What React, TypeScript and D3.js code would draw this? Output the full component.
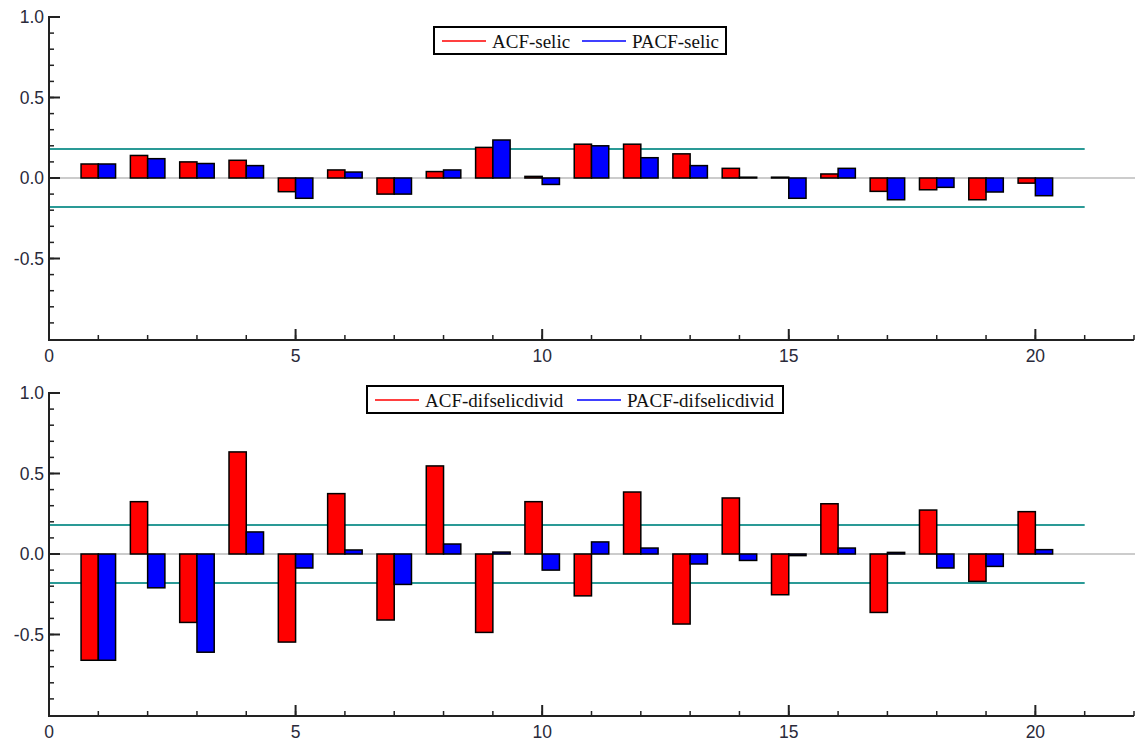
import React from "react";
import * as d3 from "d3";

const lags = d3.range(1, 21);

const acfSelic = [0.087, 0.14, 0.10, 0.11, -0.085, 0.05, -0.10, 0.04, 0.19, 0.01,
  0.21, 0.21, 0.15, 0.06, 0.005, 0.025, -0.083, -0.073, -0.135, -0.032];
const pacfSelic = [0.087, 0.12, 0.09, 0.077, -0.126, 0.037, -0.10, 0.05, 0.236, -0.04,
  0.20, 0.126, 0.077, 0.005, -0.126, 0.06, -0.135, -0.058, -0.087, -0.11];

const acfDif = [-0.66, 0.325, -0.425, 0.634, -0.547, 0.375, -0.41, 0.547, -0.487, 0.325,
  -0.26, 0.385, -0.435, 0.348, -0.253, 0.312, -0.363, 0.273, -0.17, 0.263];
const pacfDif = [-0.66, -0.21, -0.61, 0.137, -0.087, 0.025, -0.189, 0.062, 0.012, -0.10,
  0.075, 0.037, -0.062, -0.04, -0.01, 0.037, 0.01, -0.087, -0.077, 0.027];

const band = 0.18;
const yTickLabels = ["1.0", "0.5", "0.0", "-0.5"];
const xTickLabels = [0, 5, 10, 15, 20];

const W = 1143, H = 743;
const axisColor = "#222";
const tickFont = "'Liberation Sans', Arial, sans-serif";
const legendFont = "'Liberation Serif', 'DejaVu Serif', serif";

function Panel(props) {
  const { top, bottom, acf, pacf, names, legendX, legendW, legendY } = props;
  const left = 49, right = 1134;
  const x = d3.scaleLinear().domain([0, 22]).range([left, right]);
  const y = d3.scaleLinear().domain([-1, 1]).range([bottom, top]);
  const bw = 0.35;

  const bars = [];
  lags.forEach((k, i) => {
    const a = acf[i], p = pacf[i];
    bars.push(<rect key={"a" + k} x={x(k - bw)} width={x(k) - x(k - bw)}
      y={y(Math.max(0, a))} height={Math.max(Math.abs(y(a) - y(0)), 0.5)}
      fill="#ff0000" stroke="#000" strokeWidth={1.5} />);
    bars.push(<rect key={"p" + k} x={x(k)} width={x(k + bw) - x(k)}
      y={y(Math.max(0, p))} height={Math.max(Math.abs(y(p) - y(0)), 0.5)}
      fill="#0000ff" stroke="#000" strokeWidth={1.5} />);
  });

  const yMinor = d3.range(-9, 10).map(d => d / 10);
  const xMinor = d3.range(1, 23);

  return <g>
    <line x1={left} x2={right + 1} y1={y(0)} y2={y(0)} stroke="#999" strokeWidth={1} />
    <line x1={left} x2={x(21)} y1={y(band)} y2={y(band)} stroke="#2a9a96" strokeWidth={2} />
    <line x1={left} x2={x(21)} y1={y(-band)} y2={y(-band)} stroke="#2a9a96" strokeWidth={2} />
    {bars}
    {/* y axis */}
    <line x1={left} x2={left} y1={y(1) - 1} y2={bottom + 1} stroke={axisColor} strokeWidth={2} />
    {yMinor.map(v => <line key={"ym" + v} x1={left} x2={left + 5} y1={y(v)} y2={y(v)} stroke={axisColor} strokeWidth={1.5} />)}
    {yTickLabels.map(t => <g key={"yl" + t}>
      <line x1={left} x2={left + 11} y1={y(+t)} y2={y(+t)} stroke={axisColor} strokeWidth={2} />
      <text x={left - 5} y={y(+t)} dy="0.35em" textAnchor="end" fontSize={17.5}
        fontFamily={tickFont} fill="#2a2a3a">{t}</text>
    </g>)}
    {/* x axis */}
    <line x1={left - 1} x2={right} y1={bottom + 1} y2={bottom + 1} stroke={axisColor} strokeWidth={2} />
    {xMinor.map(v => <line key={"xm" + v} x1={x(v)} x2={x(v)} y1={bottom + 1} y2={bottom - 4} stroke={axisColor} strokeWidth={1.5} />)}
    {xTickLabels.map(t => <g key={"xl" + t}>
      <line x1={x(t)} x2={x(t)} y1={bottom + 1} y2={bottom - 10} stroke={axisColor} strokeWidth={2} />
      <text x={x(t)} y={bottom + 17} dy="0.35em" textAnchor="middle" fontSize={17.5}
        fontFamily={tickFont} fill="#2a2a3a">{t}</text>
    </g>)}
    {/* legend */}
    <rect x={legendX} y={legendY} width={legendW} height={27} fill="#fff" stroke="#000" strokeWidth={2} />
    <line x1={legendX + 8} x2={legendX + 52} y1={legendY + 14} y2={legendY + 14} stroke="#ff0000" strokeWidth={1.5} />
    <text x={legendX + 58} y={legendY + 14} dy="0.35em" fontSize={19} fontFamily={legendFont} fill="#111">{names[0]}</text>
    <line x1={legendX + props.second} x2={legendX + props.second + 44} y1={legendY + 14} y2={legendY + 14} stroke="#0000ff" strokeWidth={1.5} />
    <text x={legendX + props.second + 50} y={legendY + 14} dy="0.35em" fontSize={19} fontFamily={legendFont} fill="#111">{names[1]}</text>
  </g>;
}

export default function App() {
  return <svg width={W} height={H} style={{ position: "absolute", left: 0, top: 0, background: "#fff" }}>
    <Panel top={17} bottom={339} acf={acfSelic} pacf={pacfSelic}
      names={["ACF-selic", "PACF-selic"]} legendX={434} legendW={292} legendY={27} second={148} />
    <Panel top={393} bottom={715} acf={acfDif} pacf={pacfDif}
      names={["ACF-difselicdivid", "PACF-difselicdivid"]} legendX={367} legendW={416} legendY={386} second={210} />
  </svg>;
}
